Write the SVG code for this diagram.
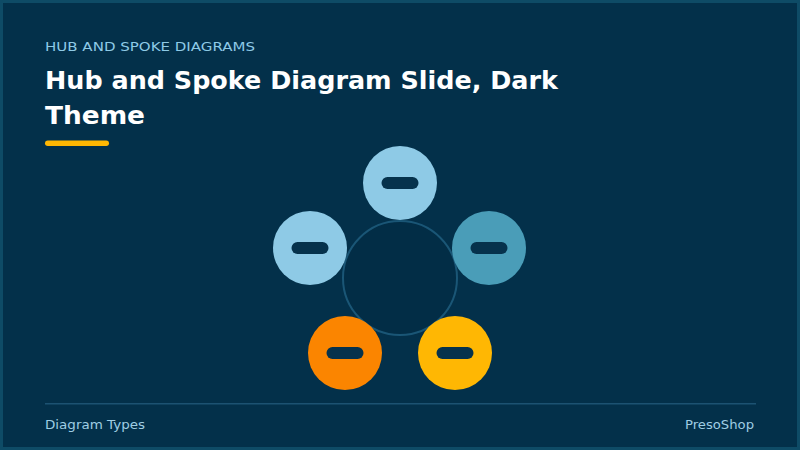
<svg xmlns="http://www.w3.org/2000/svg" width="800" height="450" viewBox="0 0 800 450">
  <style>
    .sans { font-family: "DejaVu Sans", Inter, "Liberation Sans", sans-serif; }
    .kicker { font-size: 13px; fill: #8ecae6; }
    .title { font-size: 25px; font-weight: 700; fill: #ffffff; }
    .foot { font-size: 13px; fill: #9fcde3; }
    .spoke-pill { fill: #06324c; }
  </style>
  <rect x="0" y="0" width="800" height="450" fill="#0e4b66"/>
  <rect x="3" y="3" width="794" height="444" fill="#03304a"/>

  <g id="header">
    <text class="sans kicker" x="45" y="51" textLength="210" lengthAdjust="spacingAndGlyphs">HUB AND SPOKE DIAGRAMS</text>
    <text class="sans title" x="45" y="89" textLength="513" lengthAdjust="spacingAndGlyphs">Hub and Spoke Diagram Slide, Dark</text>
    <text class="sans title" x="45" y="124" textLength="100" lengthAdjust="spacingAndGlyphs">Theme</text>
    <rect x="45" y="140.5" width="64" height="5.5" rx="2.75" fill="#ffb703"/>
  </g>

  <g id="connectors"></g>

  <g id="hub">
    <circle cx="400" cy="278" r="57" fill="#022d46" stroke="#1a5676" stroke-width="2"/>
  </g>
  <g id="spoke-top">
    <circle cx="400" cy="183" r="37" fill="#8ecae6"/>
    <rect class="spoke-pill" x="381.5" y="177" width="37" height="12" rx="6"/>
  </g>
  <g id="spoke-right">
    <circle cx="489" cy="248" r="37" fill="#4a9db8"/>
    <rect class="spoke-pill" x="470.5" y="242" width="37" height="12" rx="6"/>
  </g>
  <g id="spoke-bottom-right">
    <circle cx="455" cy="353" r="37" fill="#ffb703"/>
    <rect class="spoke-pill" x="436.5" y="347" width="37" height="12" rx="6"/>
  </g>
  <g id="spoke-bottom-left">
    <circle cx="345" cy="353" r="37" fill="#fb8500"/>
    <rect class="spoke-pill" x="326.5" y="347" width="37" height="12" rx="6"/>
  </g>
  <g id="spoke-left">
    <circle cx="310" cy="248" r="37" fill="#8ecae6"/>
    <rect class="spoke-pill" x="291.5" y="242" width="37" height="12" rx="6"/>
  </g>

  <g id="footer">
    <rect x="45" y="403" width="711" height="1.5" fill="#1c5272"/>
    <text class="sans foot" x="45" y="429" textLength="100" lengthAdjust="spacingAndGlyphs">Diagram Types</text>
    <text class="sans foot" x="685" y="429" textLength="69" lengthAdjust="spacingAndGlyphs">PresoShop</text>
  </g>
</svg>
